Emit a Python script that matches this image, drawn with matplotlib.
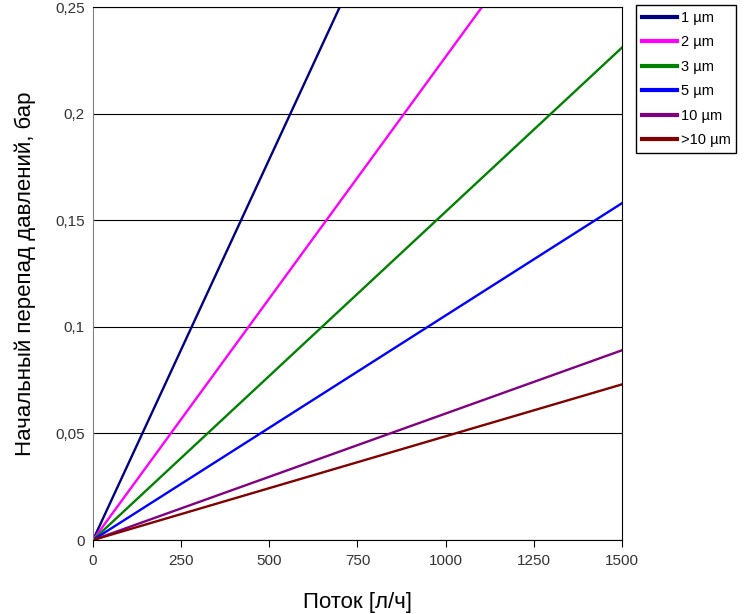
import matplotlib
matplotlib.use("Agg")
import matplotlib.pyplot as plt
from matplotlib.ticker import FuncFormatter

plt.rcParams['font.family'] = ['Liberation Sans', 'DejaVu Sans']

# расход, л/ч
flow = [0, 1500]
# перепад давлений при максимальном расходе, бар
labels = ['1 µm', '2 µm', '3 µm', '5 µm', '10 µm', '>10 µm']
dp_end = [0.536, 0.340, 0.231, 0.158, 0.089, 0.073]
colors = ['#000080', '#ff00ff', '#008000', '#0000ff', '#800080', '#800000']

fig = plt.figure(figsize=(7.44, 6.14), dpi=100)
ax = fig.add_axes([0.125, 0.1205, 0.711, 0.868])

for lab, dp, c in zip(labels, dp_end, colors):
    ax.plot(flow, [0, dp], color=c, linewidth=1.7, label=lab)

ax.set_xlim(0, 1500)
ax.set_ylim(0, 0.25)
ax.set_xticks([0, 250, 500, 750, 1000, 1250, 1500])
ax.set_yticks([0, 0.05, 0.1, 0.15, 0.2, 0.25])
ax.yaxis.set_major_formatter(FuncFormatter(lambda v, p: ('%g' % round(v, 2)).replace('.', ',')))
ax.grid(axis='y', color='black', linewidth=0.8)
ax.set_axisbelow(True)
ax.tick_params(axis='y', length=0, labelsize=11, colors='#333333', pad=6)
ax.tick_params(axis='x', length=5, labelsize=11, colors='#333333', pad=5)
ax.tick_params(axis='x', color='black')
ax.spines['left'].set_color('#808080')
for s in ['top', 'right', 'bottom']:
    ax.spines[s].set_color('black')

ax.set_xlabel('Поток [л/ч]', fontsize=16, labelpad=17)
ax.set_ylabel('Начальный перепад давлений, бар', fontsize=16, labelpad=14)

leg = fig.legend(loc='upper left', bbox_to_anchor=(0.855, 0.992), fontsize=10.5,
                 handlelength=2.4, handletextpad=0.25, labelspacing=0.72,
                 borderpad=0.4, borderaxespad=0, fancybox=False, framealpha=1,
                 edgecolor='black')
leg.get_frame().set_linewidth(1)
for h in leg.get_lines():
    h.set_linewidth(3)

fig.savefig('out.png', dpi=100)
